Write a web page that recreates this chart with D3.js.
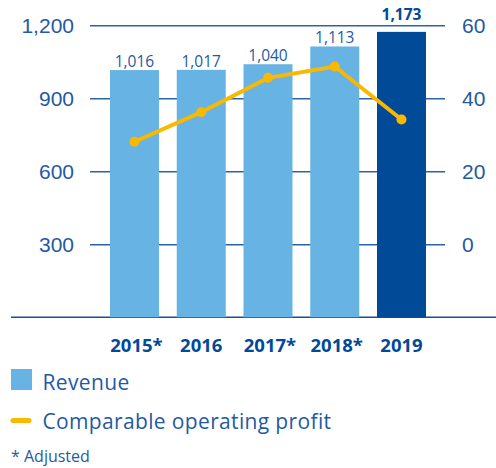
<!DOCTYPE html>
<html>
<head>
<meta charset="utf-8">
<script src="https://cdnjs.cloudflare.com/ajax/libs/d3/7.8.5/d3.min.js"></script>
<style>
  body { margin: 0; background: #fff; }
  svg { font-family: 'Open Sans', sans-serif; }
</style>
</head>
<body>
<div id="chart"></div>
<script>
'use strict';

var years = ['2015*', '2016', '2017*', '2018*', '2019'];
var revenue = [1016, 1017, 1040, 1113, 1173];
var profit = [28.1, 36.2, 45.6, 48.7, 34.2];
var leftTicks = [300, 600, 900, 1200];
var rightTicks = [0, 20, 40, 60];

var width = 496, height = 468;
var blue = '#1f5aa3';
var dark = '#004a98';
var light = '#67b3e3';
var yellow = '#fbb800';

var svg = d3.select('#chart')
  .append('svg')
  .attr('width', width)
  .attr('height', height);

// scales
var x = d3.scaleBand()
  .domain(years)
  .range([110, 426])
  .paddingInner(0.266)
  .paddingOuter(0);

var yLeft = d3.scaleLinear()
  .domain([0, 1200])
  .range([317.3, 25.3]);

var yRight = d3.scaleLinear()
  .domain([-20, 60])
  .range([317.3, 25.3]);

// left axis with gridlines
var gLeft = svg.append('g')
  .attr('transform', 'translate(90,0)')
  .call(d3.axisLeft(yLeft).tickValues(leftTicks).tickSize(-355).tickPadding(16)
    .tickFormat(d3.format(',')));
gLeft.select('.domain').remove();
gLeft.selectAll('.tick line').attr('stroke', '#2c62a6').attr('stroke-width', 1.4);
gLeft.selectAll('.tick text')
  .attr('fill', blue)
  .style('font-size', '21px')
  .attr('dy', '0.36em');

// right axis
var gRight = svg.append('g')
  .attr('transform', 'translate(445,0)')
  .call(d3.axisRight(yRight).tickValues(rightTicks).tickSize(0).tickPadding(17));
gRight.select('.domain').remove();
gRight.selectAll('.tick text')
  .attr('fill', blue)
  .style('font-size', '21px')
  .attr('dy', '0.36em');

// baseline
svg.append('line')
  .attr('x1', 11).attr('x2', width)
  .attr('y1', yLeft(0)).attr('y2', yLeft(0))
  .attr('stroke', '#1f4e8c')
  .attr('stroke-width', 1.6);

// bars
svg.selectAll('rect.bar')
  .data(revenue)
  .enter()
  .append('rect')
  .attr('class', 'bar')
  .attr('x', function(d, i) { return x(years[i]); })
  .attr('y', function(d) { return yLeft(d); })
  .attr('width', x.bandwidth())
  .attr('height', function(d) { return yLeft(0) - yLeft(d); })
  .attr('fill', function(d, i) { return i === revenue.length - 1 ? dark : light; });

// bar value labels
svg.selectAll('text.val')
  .data(revenue)
  .enter()
  .append('text')
  .attr('class', 'val')
  .attr('x', function(d, i) { return x(years[i]) + x.bandwidth() / 2; })
  .attr('y', function(d, i) { return yLeft(d) - (i === revenue.length - 1 ? 11.5 : 3); })
  .attr('text-anchor', 'middle')
  .attr('fill', function(d, i) { return i === revenue.length - 1 ? dark : blue; })
  .style('font-size', '15.5px')
  .style('font-weight', function(d, i) { return i === revenue.length - 1 ? 700 : 400; })
  .text(d3.format(','));

// profit line
var line = d3.line()
  .x(function(d, i) { return x(years[i]) + x.bandwidth() / 2; })
  .y(function(d) { return yRight(d); });

svg.append('path')
  .datum(profit)
  .attr('d', line)
  .attr('fill', 'none')
  .attr('stroke', yellow)
  .attr('stroke-width', 4);

svg.selectAll('circle')
  .data(profit)
  .enter()
  .append('circle')
  .attr('cx', function(d, i) { return x(years[i]) + x.bandwidth() / 2; })
  .attr('cy', function(d) { return yRight(d); })
  .attr('r', 5)
  .attr('fill', yellow);

// x labels
svg.selectAll('text.year')
  .data(years)
  .enter()
  .append('text')
  .attr('class', 'year')
  .attr('x', function(d) { return x(d) + x.bandwidth() / 2 + (d.indexOf('*') > -1 ? 2 : 0); })
  .attr('y', 352.3)
  .attr('text-anchor', 'middle')
  .attr('fill', dark)
  .style('font-size', '18.5px')
  .style('font-weight', 700)
  .text(function(d) { return d; });

// legend
svg.append('rect')
  .attr('x', 11).attr('y', 369)
  .attr('width', 21).attr('height', 21)
  .attr('fill', light);
svg.append('text')
  .attr('x', 42.5).attr('y', 389.5)
  .attr('fill', blue)
  .style('font-size', '21px')
  .style('letter-spacing', '0.35px')
  .text('Revenue');

svg.append('line')
  .attr('x1', 13).attr('x2', 29)
  .attr('y1', 420.5).attr('y2', 420.5)
  .attr('stroke', yellow)
  .attr('stroke-width', 5)
  .attr('stroke-linecap', 'round');
svg.append('text')
  .attr('x', 42.5).attr('y', 428.8)
  .attr('fill', blue)
  .style('font-size', '21px')
  .style('letter-spacing', '0.35px')
  .text('Comparable operating profit');

svg.append('text')
  .attr('x', 11).attr('y', 462.3)
  .attr('fill', blue)
  .style('font-size', '16px')
  .text('* Adjusted');
</script>
</body>
</html>
